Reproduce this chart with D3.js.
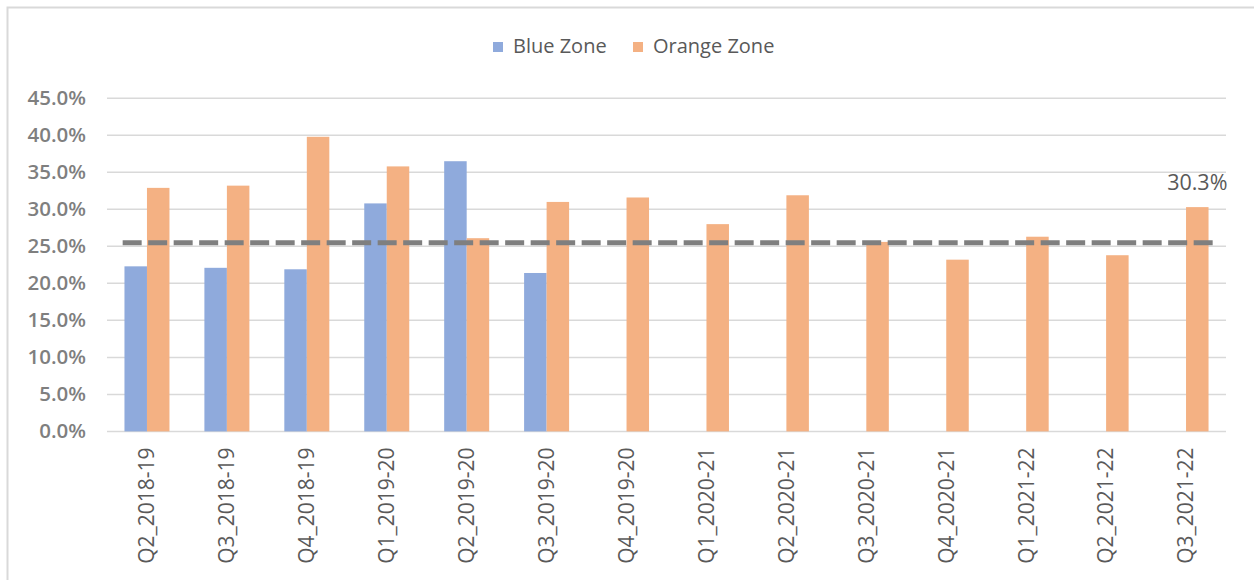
<!DOCTYPE html>
<html>
<head>
<meta charset="utf-8">
<script src="https://cdn.jsdelivr.net/npm/d3@7"></script>
<style>
  html, body { margin: 0; padding: 0; background: #ffffff; }
  svg { display: block; }
</style>
</head>
<body>
<svg id="chart" width="1254" height="580"></svg>
<script>
// Quarterly share by zone
const categories = [
  "Q2_2018-19", "Q3_2018-19", "Q4_2018-19", "Q1_2019-20", "Q2_2019-20",
  "Q3_2019-20", "Q4_2019-20", "Q1_2020-21", "Q2_2020-21", "Q3_2020-21",
  "Q4_2020-21", "Q1_2021-22", "Q2_2021-22", "Q3_2021-22"
];
const blueZone = [0.223, 0.221, 0.219, 0.308, 0.365, 0.214, null, null, null, null, null, null, null, null];
const orangeZone = [0.329, 0.332, 0.398, 0.358, 0.261, 0.310, 0.316, 0.280, 0.319, 0.256, 0.232, 0.263, 0.238, 0.303];
const referenceLevel = 0.255;
const yTicks = [0, 0.05, 0.10, 0.15, 0.20, 0.25, 0.30, 0.35, 0.40, 0.45];
const seriesNames = ["Blue Zone", "Orange Zone"];
const seriesColors = ["#8faadc", "#f4b183"];

const FONT = "'Open Sans', 'Noto Sans', sans-serif";
const svg = d3.select("#chart");

// chart frame
svg.append("rect")
  .attr("x", 7.5).attr("y", 7.5)
  .attr("width", 1254).attr("height", 590)
  .attr("fill", "#ffffff")
  .attr("stroke", "#d9d9d9").attr("stroke-width", 2);

const plot = { left: 107, right: 1226, top: 98.3, bottom: 431.4 };

const x = d3.scaleBand()
  .domain(categories)
  .range([plot.left, plot.right])
  .paddingInner(0.437)
  .paddingOuter(0.437 / 2);

const xSeries = d3.scaleBand()
  .domain(seriesNames)
  .range([0, x.bandwidth()]);

const y = d3.scaleLinear()
  .domain([0, 0.45])
  .range([plot.bottom, plot.top]);

// gridlines
svg.append("g")
  .selectAll("line")
  .data(yTicks)
  .join("line")
  .attr("x1", plot.left).attr("x2", plot.right)
  .attr("y1", d => y(d)).attr("y2", d => y(d))
  .attr("stroke", "#d9d9d9").attr("stroke-width", 1.5);

// y axis labels
const yAxis = svg.append("g")
  .attr("transform", `translate(${plot.left - 21},0)`)
  .call(d3.axisLeft(y).tickValues(yTicks).tickFormat(d3.format(".1%")).tickSize(0).tickPadding(0));
yAxis.select(".domain").remove();
yAxis.selectAll("text")
  .attr("fill", "#7f7f7f")
  .attr("font-family", FONT)
  .attr("font-weight", 600)
  .attr("font-size", 20.5);

// bars
const rows = categories.map((c, i) => ({ cat: c, values: [blueZone[i], orangeZone[i]] }));
const groups = svg.append("g")
  .selectAll("g")
  .data(rows)
  .join("g")
  .attr("transform", d => `translate(${x(d.cat)},0)`);

groups.selectAll("rect")
  .data(d => d.values.map((v, k) => ({ name: seriesNames[k], v, k })).filter(e => e.v != null))
  .join("rect")
  .attr("x", d => xSeries(d.name))
  .attr("width", xSeries.bandwidth())
  .attr("y", d => y(d.v))
  .attr("height", d => y(0) - y(d.v))
  .attr("fill", d => seriesColors[d.k]);

// reference dashed line
const step = x.step();
svg.append("line")
  .attr("x1", plot.left + step * 0.196)
  .attr("x2", plot.right - step * 0.1)
  .attr("y1", y(referenceLevel)).attr("y2", y(referenceLevel))
  .attr("stroke", "#7f7f7f")
  .attr("stroke-width", 5)
  .attr("stroke-dasharray", "19,6.5");

// value label on the latest quarter
const lastIdx = categories.length - 1;
svg.append("text")
  .attr("x", x(categories[lastIdx]) + xSeries("Orange Zone") + xSeries.bandwidth() / 2)
  .attr("y", y(orangeZone[lastIdx]) - 17)
  .attr("text-anchor", "middle")
  .attr("fill", "#595959")
  .attr("font-family", FONT)
  .attr("font-size", 21.5)
  .text(d3.format(".1%")(orangeZone[lastIdx]));

// x axis labels
const xAxis = svg.append("g")
  .attr("transform", `translate(0,${plot.bottom})`)
  .call(d3.axisBottom(x).tickSize(0).tickPadding(0));
xAxis.select(".domain").remove();
xAxis.selectAll("text")
  .attr("fill", "#595959")
  .attr("font-family", FONT)
  .attr("font-size", 21)
  .attr("transform", "rotate(-90)")
  .attr("text-anchor", "end")
  .attr("dy", "0.35em")
  .attr("x", -16)
  .attr("y", 0);

// legend
const legend = svg.append("g");
const legendItems = [
  { name: seriesNames[0], color: seriesColors[0], x: 493 },
  { name: seriesNames[1], color: seriesColors[1], x: 633 }
];
legendItems.forEach(it => {
  legend.append("rect")
    .attr("x", it.x).attr("y", 42)
    .attr("width", 10).attr("height", 10)
    .attr("fill", it.color);
  legend.append("text")
    .attr("x", it.x + 20).attr("y", 53)
    .attr("fill", "#595959")
    .attr("font-family", FONT)
    .attr("font-size", 20)
    .text(it.name);
});
</script>
</body>
</html>
